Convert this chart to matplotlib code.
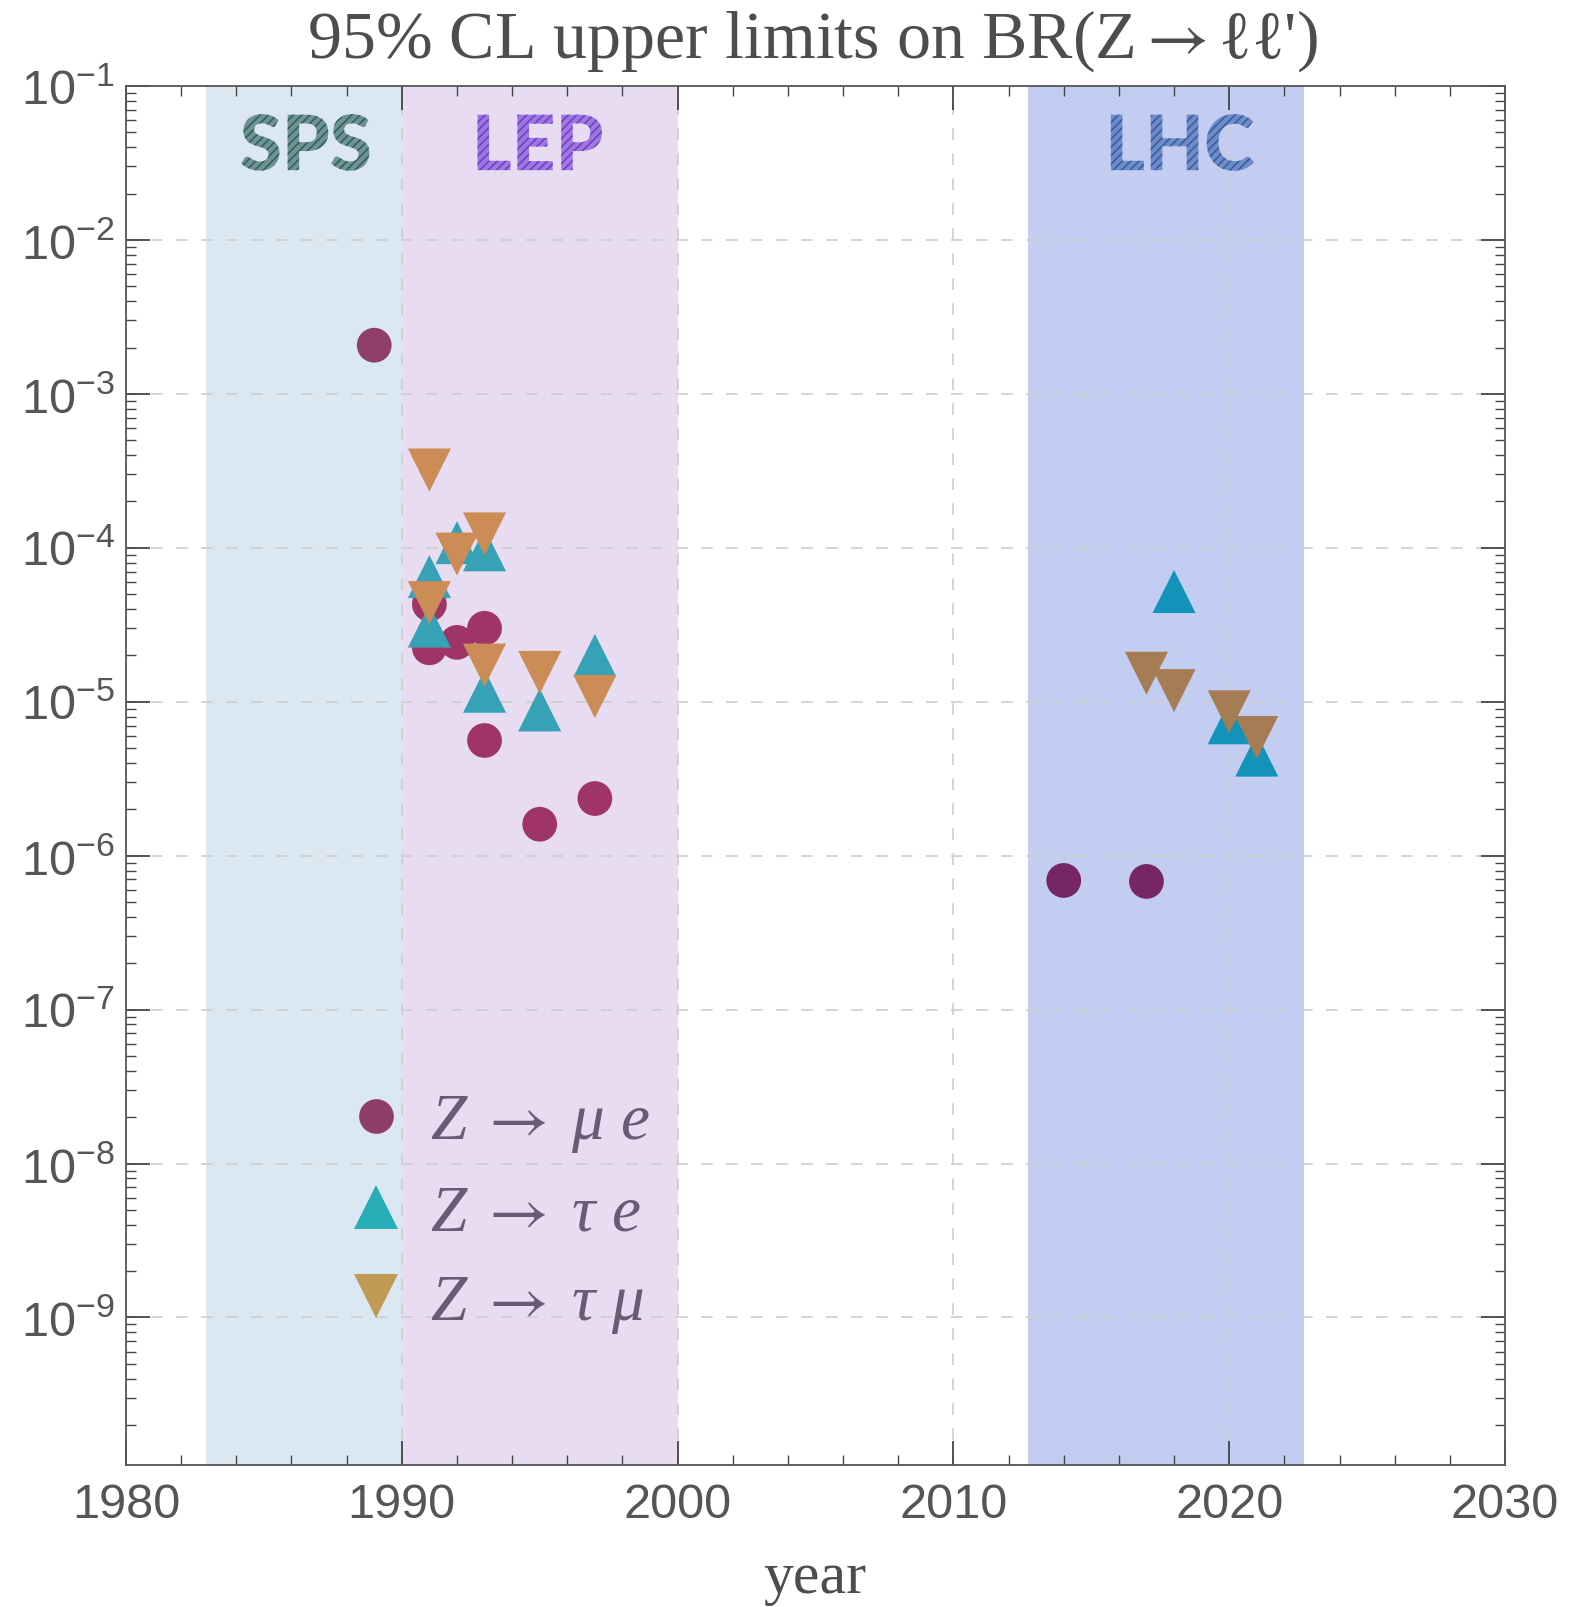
import matplotlib
matplotlib.use("Agg")
import matplotlib.pyplot as plt
import matplotlib.transforms as mtransforms
from matplotlib.textpath import TextPath
from matplotlib.patches import PathPatch
from matplotlib.font_manager import FontProperties
from matplotlib.lines import Line2D
from matplotlib.ticker import LogLocator, MultipleLocator, NullFormatter, FixedLocator

# ---------------- data ----------------
# Z -> mu e (circles)
me_years = [1989, 1991, 1991, 1992, 1993, 1993, 1995, 1997, 2014, 2017]
me_vals = [2.07e-3, 4.3e-5, 2.24e-5, 2.43e-5, 3.0e-5, 5.6e-6, 1.6e-6, 2.35e-6, 6.9e-7, 6.8e-7]

# Z -> tau e (up triangles)
te_years = [1991, 1991, 1992, 1993, 1993, 1995, 1997, 2018, 2020, 2021]
te_vals = [6.5e-5, 3.1e-5, 1.08e-4, 9.7e-5, 1.17e-5, 8.85e-6, 2.0e-5, 5.2e-5, 7.3e-6, 4.5e-6]

# Z -> tau mu (down triangles)
tm_years = [1991, 1991, 1992, 1993, 1993, 1995, 1997, 2017, 2018, 2020, 2021]
tm_vals = [3.2e-4, 4.4e-5, 9.1e-5, 1.23e-4, 1.73e-5, 1.55e-5, 1.08e-5, 1.53e-5, 1.18e-5, 8.6e-6, 5.85e-6]

# experimental eras (bands)
era_names = ["SPS", "LEP", "LHC"]
era_start = [1982.9, 1990.0, 2012.7]
era_end = [1990.0, 2000.0, 2022.7]
era_label_x = [1986.5, 1995.0, 2018.3]

# y decades labelled
y_major = [1e-9, 1e-8, 1e-7, 1e-6, 1e-5, 1e-4, 1e-3, 1e-2, 1e-1]

legend_labels = [r"Z$\;\rightarrow\;$μ e", r"Z$\;\rightarrow\;$τ e", r"Z$\;\rightarrow\;$τ μ"]
title = r"95% CL upper limits on BR(Z$\rightarrow$ℓℓ')"
xlabel = "year"

# ---------------- style ----------------
plt.rcParams["font.family"] = ["Liberation Sans", "DejaVu Sans"]
plt.rcParams["mathtext.fontset"] = "stix"
plt.rcParams["hatch.linewidth"] = 1.2

era_face = ["#dbe7f1", "#e8dcf2", "#c3cdf1"]
era_text_face = ["#6f9292", "#9e78e0", "#6d8cc8"]
era_text_hatch = ["#355f60", "#7040c8", "#3a5e9e"]

col_me = {"old": "#8e3f6a", "lep": "#9e3468", "lhc": "#762566"}
col_te = {"lep": "#37a2b5", "lhc": "#1393ba"}
col_tm = {"lep": "#cb8c55", "lhc": "#a67c55"}
leg_cols = ["#8e3e6a", "#27adb6", "#bf9a55"]

def era_of(y):
    if y < 1990:
        return "old"
    if y < 2005:
        return "lep"
    return "lhc"

W, H, DPI = 1570, 1608, 100
fig = plt.figure(figsize=(W / DPI, H / DPI), dpi=DPI)
ax = fig.add_axes([126 / W, 1 - 1466 / H, (1505 - 126) / W, (1466 - 87) / H])

ax.set_yscale("log")
ax.set_xlim(1980, 2030)
ax.set_ylim(1.1e-10, 1e-1)

# bands
for s, e, c in zip(era_start, era_end, era_face):
    ax.axvspan(s, e, color=c, lw=0, zorder=0)

# grid
grid_kw = dict(color="#cdcdcd", lw=1.2, ls=(0, (7, 8)), zorder=1)
for gx in [1990, 2000, 2010, 2020]:
    ax.axvline(gx, **grid_kw)
for yv in y_major[:-1]:
    ax.axhline(yv, **grid_kw)

# band labels with hatched fill
fp = FontProperties(family=["Lato", "Open Sans", "DejaVu Sans"], weight="black")
for name, lx, fc, hc in zip(era_names, era_label_x, era_text_face, era_text_hatch):
    tp = TextPath((0, 0), name, size=1, prop=fp)
    ext = tp.get_extents()
    cx, cy = (ext.x0 + ext.x1) / 2, (ext.y0 + ext.y1) / 2
    size_pt = 55
    tr = (mtransforms.Affine2D().translate(-cx, -cy).scale(size_pt / 72.0)
          + fig.dpi_scale_trans
          + mtransforms.ScaledTranslation(lx, 0.043, ax.transData))
    patch = PathPatch(tp, transform=tr, facecolor=fc, edgecolor=hc, hatch="////",
                      lw=0, zorder=3)
    ax.add_artist(patch)

# data markers
ax.scatter(me_years, me_vals, s=25 ** 2, marker="o",
           c=[col_me[era_of(y)] for y in me_years], lw=0, zorder=4)
ax.scatter(te_years, te_vals, s=31 ** 2, marker="^",
           c=[col_te["lep" if y < 2005 else "lhc"] for y in te_years], lw=0, zorder=5)
ax.scatter(tm_years, tm_vals, s=31 ** 2, marker="v",
           c=[col_tm["lep" if y < 2005 else "lhc"] for y in tm_years], lw=0, zorder=6)

# ticks
ax.xaxis.set_major_locator(MultipleLocator(10))
ax.xaxis.set_minor_locator(MultipleLocator(2))
ax.yaxis.set_major_locator(FixedLocator(y_major))
ax.yaxis.set_minor_locator(LogLocator(base=10, subs=range(2, 10), numticks=20))
ax.yaxis.set_minor_formatter(NullFormatter())
ax.tick_params(which="both", direction="in", top=True, right=True, color="#444444")
ax.tick_params(which="major", length=17, width=1.3, labelsize=35, labelcolor="#555555")
ax.tick_params(which="minor", length=7, width=1.0)
ax.tick_params(axis="x", which="major", pad=12)
ax.tick_params(axis="y", which="major", pad=8)
for sp in ax.spines.values():
    sp.set_color("#555555")
    sp.set_linewidth(1.3)
    sp.set_zorder(7)

# legend
handles = [
    Line2D([], [], ls="none", marker="o", ms=25, mfc=leg_cols[0], mew=0),
    Line2D([], [], ls="none", marker="^", ms=31, mfc=leg_cols[1], mew=0),
    Line2D([], [], ls="none", marker="v", ms=31, mfc=leg_cols[2], mew=0),
]
leg = ax.legend(handles, legend_labels, loc="upper left", bbox_to_anchor=(0.166, 0.27),
                frameon=False, borderpad=0, borderaxespad=0, handlelength=0.65,
                handletextpad=0.5, labelspacing=0.45,
                prop=FontProperties(family=["Liberation Serif", "DejaVu Serif"],
                                    style="italic", size=47))
for t in leg.get_texts():
    t.set_color("#6b5a73")

# titles
fig.text(812 / W, 1 - 41 / H, title, ha="center", va="center",
         fontsize=49, color="#4d4d4d", family=["Liberation Serif", "DejaVu Serif"])
fig.text(815 / W, 1 - 1579 / H, xlabel, ha="center", va="center",
         fontsize=43, color="#4d4d4d", family=["Liberation Serif", "DejaVu Serif"])

fig.savefig("out.png", dpi=DPI)
